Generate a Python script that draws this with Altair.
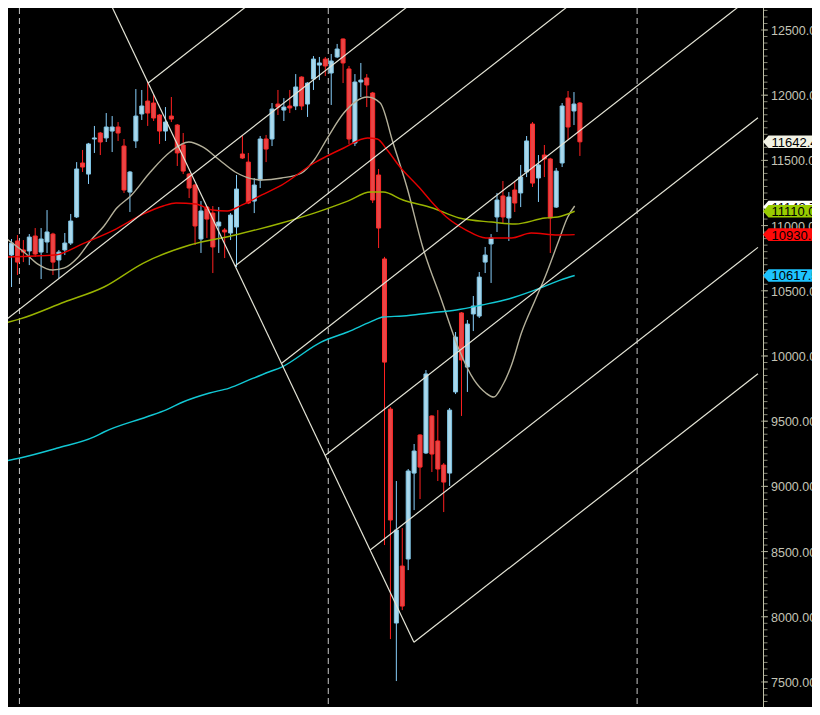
import altair as alt
import pandas as pd

# ---- weekly candles (index 0..97), prices ----
opens = [10851, 10774, 10882, 10813, 10805, 10920, 10797, 10874, 10935, 10736,
         10813, 10866, 11066, 11480, 11395, 11664, 11710, 11672, 11725, 11756,
         11610, 11257, 11649, 11856, 11955, 11940, 11848, 11725, 11840, 11771,
         11618, 11395, 11311, 10897, 11142, 11096, 10997, 10966, 10943, 10989,
         11549, 11487, 11188, 11349, 11664, 11664, 11932, 11886, 11917, 11917,
         12139, 11932, 12124, 12231, 12277, 12170, 12293, 12431, 12201, 11633,
         12101, 12132, 12017, 11388, 10744, 9593, 7952, 8389, 8443, 9102,
         9394, 9256, 9540, 9348, 9164, 9102, 9724, 10330, 9915, 10322,
         10306, 10720, 10859, 11066, 11227, 11058, 11273, 11250, 11411, 11779,
         11365, 11541, 11511, 11142, 11480, 11978, 11879, 11940]
highs = [10989, 10897, 10928, 10889, 10935, 10981, 10981, 11119, 10945, 10813,
         10943, 11089, 11487, 11580, 11634, 11764, 11718, 11863, 11840, 11794,
         11664, 11419, 12047, 12040, 12101, 12001, 11856, 11909, 11986, 11779,
         11710, 11403, 11318, 11188, 11150, 11150, 11142, 10981, 11096, 11388,
         11687, 11557, 11365, 11687, 11695, 11940, 12040, 11978, 12040, 12162,
         12145, 12100, 12300, 12293, 12293, 12316, 12393, 12435, 12224, 12162,
         12247, 12162, 12025, 11434, 10760, 9608, 9041, 8680, 9133, 9325,
         9400, 9892, 9545, 9585, 9179, 9601, 10184, 10337, 10276, 10460,
         10644, 10836, 10935, 11250, 11342, 11257, 11334, 11465, 11687, 11794,
         11541, 11618, 11520, 11442, 11940, 12032, 12024, 11948]
lows = [10721, 10529, 10621, 10720, 10697, 10759, 10590, 10790, 10621, 10598,
        10774, 10851, 11058, 11411, 11319, 11557, 11541, 11641, 11564, 11649,
        11250, 11104, 11595, 11810, 11764, 11802, 11626, 11649, 11794, 11457,
        11395, 11211, 10851, 10790, 10905, 10636, 10790, 10751, 10889, 10682,
        11511, 11165, 11096, 11288, 11487, 11610, 11848, 11802, 11863, 11886,
        11886, 11833, 12040, 12116, 12147, 11925, 12285, 12093, 11626, 11610,
        11986, 11909, 11173, 10828, 8550, 7829, 7507, 8051, 8358, 8818,
        8903, 9248, 9110, 9041, 8803, 9003, 9708, 9540, 9724, 10191,
        10291, 10636, 10560, 10951, 11020, 10882, 11104, 11142, 11372, 11296,
        11181, 11372, 10790, 11135, 11449, 11656, 11771, 11534]
closes = [10751, 10866, 10720, 10797, 10912, 10782, 10897, 10951, 10720, 10797,
          10866, 11035, 11434, 11449, 11626, 11672, 11641, 11756, 11756, 11710,
          11273, 11411, 11840, 11917, 11863, 11825, 11725, 11794, 11817, 11557,
          11418, 11288, 10997, 11112, 11050, 10836, 11027, 10951, 11081, 11280,
          11518, 11173, 11311, 11664, 11587, 11894, 11909, 11909, 11902, 12063,
          11917, 12093, 12277, 12247, 12224, 12262, 12354, 12247, 11664, 12101,
          12116, 12078, 11196, 10981, 9953, 8742, 8665, 8082, 9118, 9271,
          9148, 9862, 9248, 9133, 9033, 9585, 10145, 9969, 10245, 10383,
          10605, 10774, 10905, 11196, 11066, 11219, 11173, 11372, 11649, 11326,
          11465, 11511, 11058, 11418, 11917, 11756, 11932, 11642.4]

# ---- moving averages (candle index, price) ----
grey_k = [-0.05, 3.28, 5.45, 7.95, 9.95, 12.12, 14.45, 16.62, 18.78, 21.12, 24.45, 27.78,
          30.95, 33.28, 36.12, 38.78, 43.28, 46.62, 49.95, 52.12, 54.45, 57.12, 61.12,
          63.28, 65.45, 67.78, 70.45, 73.62, 76.62, 79.12, 81.12, 82.45, 83.78, 85.45,
          87.12, 89.45, 91.12, 93.28, 94.95, 96.12]
grey_p = [10905, 10790, 10705, 10659, 10675, 10751, 10889, 10997, 11135, 11227, 11411, 11564,
          11641, 11603, 11503, 11411, 11350, 11365, 11403, 11503, 11679, 11863, 11986,
          11940, 11633, 11296, 10836, 10429, 10046, 9816, 9716, 9685, 9762, 9931,
          10176, 10429, 10606, 10866, 11066, 11150]
red_k = [-0.05, 8.28, 13.28, 18.28, 23.28, 26.62, 28.78, 32.12, 34.95, 37.45, 39.95, 43.28,
         46.62, 52.12, 57.12, 61.12, 62.78, 64.45, 66.62, 69.95, 72.12, 74.45, 77.78,
         81.12, 85.45, 88.78, 93.28, 96.12]
red_p = [10759, 10774, 10866, 10966, 11089, 11150, 11173, 11165, 11119, 11112, 11158, 11235,
         11311, 11480, 11595, 11672, 11664, 11580, 11449, 11288, 11173, 11066, 10966,
         10905, 10905, 10943, 10928, 10931]
olive_k = [-0.05, 2.45, 9.95, 16.62, 23.28, 31.12, 38.78, 46.62, 52.12, 57.78, 61.62, 63.78,
           67.12, 72.12, 76.62, 82.12, 86.12, 91.12, 93.28, 96.12]
olive_p = [10253, 10284, 10414, 10529, 10713, 10851, 10928, 11020, 11096, 11188, 11257, 11257,
           11196, 11135, 11058, 11027, 11012, 11058, 11066, 11110]
cyan_k = [-0.05, 2.45, 8.78, 14.95, 16.62, 23.78, 27.12, 29.95, 34.45, 37.78, 41.12, 44.45,
          46.62, 53.28, 57.78, 61.62, 63.78, 67.12, 71.62, 76.12, 80.45, 84.95, 89.45,
          93.78, 96.12]
cyan_p = [9195, 9218, 9294, 9379, 9417, 9532, 9586, 9647, 9716, 9754, 9816, 9877,
          9915, 10107, 10184, 10261, 10299, 10307, 10330, 10353, 10391, 10437, 10506,
          10583, 10617]
ma_colors = {"grey": "#b4b09a", "olive": "#9ab400", "red": "#e60000", "cyan": "#12c8d4"}

# ---- year separators (candle index) ----
year_sep = [2.333, 54.5, 106.667]

# ---- drawn trend lines: (start index, start price, end index, end price) ----
trend_names = ["A", "P0", "P1", "P2", "P3", "P4", "P5", "P6"]
trend_k1 = [17.42, 24.08, -0.08, 38.75, 46.58, 53.97, 61.58, 68.97]
trend_p1 = [12730, 12093, 10272, 10690, 9942, 9237, 8512, 7804]
trend_k2 = [68.97, 42.05, 69.30, 96.33, 125.25, 127.08, 127.08, 127.08]
trend_p2 = [7804, 12730, 12730, 12730, 12730, 11827, 10833, 9863]

# ---- price axis ----
axis_values = [7500, 8000, 8500, 9000, 9500, 10000, 10500, 11000, 11500, 12000, 12500]
axis_labels = ["7500.00", "8000.00", "8500.00", "9000.00", "9500.00", "10000.00",
               "10500.00", "11000.00", "11500.00", "12000.00", "12500.00"]
minor_ticks = list(range(7350, 12700, 50))

# ---- price tags on the axis ----
tag_texts = ["11642.40", "11110.07", "10930.87", "10617.55"]
tag_prices = [11642.4, 11110.07, 10930.87, 10617.55]
tag_colors = ["#f2f2e4", "#99cc00", "#ff0a0a", "#1ec4ff"]
hidden_tag_text = ["11143.74"]
hidden_tag_price = [11142.5]

# ================= build =================
xs = alt.Scale(domain=[1.25, 127.0833], nice=False, zero=False)
ys = alt.Scale(domain=[7308, 12668.65], nice=False, zero=False)

cdf = pd.DataFrame({"k": list(range(len(opens))), "open": opens, "high": highs,
                    "low": lows, "close": closes})
up = [c >= o for o, c in zip(opens, closes)]
cdf["wick"] = ["#87cefa" if u else "#ff2020" for u in up]
cdf["bfill"] = ["#aad8ec" if u else "#e84646" for u in up]
cdf["bstroke"] = ["#80c6e6" if u else "#ff2a2a" for u in up]

X = alt.X("k:Q", scale=xs, axis=None)


def Y(field):
    return alt.Y(field, scale=ys, axis=None)


seps = alt.Chart(pd.DataFrame({"k": year_sep})).mark_rule(
    color="#c8c8c8", strokeDash=[6, 4], strokeWidth=1, clip=True
).encode(x=X)

wicks = alt.Chart(cdf).mark_rule(strokeWidth=1, clip=True).encode(
    x=X, y=Y("low:Q"), y2="high:Q",
    color=alt.Color("wick:N", scale=None),
)

bodies = alt.Chart(cdf).mark_bar(width=4, strokeWidth=1, clip=True).encode(
    x=X, y=Y("open:Q"), y2="close:Q",
    fill=alt.Fill("bfill:N", scale=None),
    stroke=alt.Stroke("bstroke:N", scale=None),
)

ma_rows = []
for name, ks, ps in [("grey", grey_k, grey_p), ("olive", olive_k, olive_p),
                     ("red", red_k, red_p), ("cyan", cyan_k, cyan_p)]:
    for i, (kk, pp) in enumerate(zip(ks, ps)):
        ma_rows.append({"ma": name, "col": ma_colors[name], "k": kk, "p": pp, "i": i})
madf = pd.DataFrame(ma_rows)

mas = alt.Chart(madf).mark_line(strokeWidth=1.4, interpolate="monotone", clip=True).encode(
    x=X, y=Y("p:Q"),
    color=alt.Color("col:N", scale=None),
    detail="ma:N",
    order="i:Q",
)

tl_rows = []
for n, a, b, c, d in zip(trend_names, trend_k1, trend_p1, trend_k2, trend_p2):
    tl_rows.append({"name": n, "k": a, "p": b, "i": 0})
    tl_rows.append({"name": n, "k": c, "p": d, "i": 1})
tldf = pd.DataFrame(tl_rows)

trends = alt.Chart(tldf).mark_line(color="#e4e4d6", strokeWidth=1.2, clip=True).encode(
    x=X, y=Y("p:Q"), detail="name:N", order="i:Q",
)

axis_line = alt.Chart(pd.DataFrame({"k": [0]})).mark_rule(
    color="#c0c0a8", strokeWidth=1
).encode(x=alt.value(755.5), y=alt.value(0), y2=alt.value(699))

minor = alt.Chart(pd.DataFrame({"p": minor_ticks})).mark_tick(
    color="#c0c0a8", size=4, thickness=1
).encode(x=alt.value(757.5), y=Y("p:Q"))

major = alt.Chart(pd.DataFrame({"p": axis_values})).mark_tick(
    color="#c0c0a8", size=7, thickness=1
).encode(x=alt.value(756.5), y=Y("p:Q"))

ax_labels = alt.Chart(pd.DataFrame({"p": axis_values, "txt": axis_labels})).mark_text(
    align="left", baseline="middle", font="Liberation Sans", fontSize=12.5,
    color="#c4c4b6", dy=1
).encode(x=alt.value(763), y=Y("p:Q"), text="txt:N")

TAG = "M0,0 L0.55,-0.63 L7,-0.63 L7,0.63 L0.55,0.63 Z"

hid_df = pd.DataFrame({"p": hidden_tag_price, "txt": hidden_tag_text})
hid_tag = alt.Chart(hid_df).mark_point(shape=TAG, size=400, filled=True, opacity=1,
                                       fill="#ffffff", strokeWidth=0).encode(
    x=alt.value(755), y=Y("p:Q"))
hid_txt = alt.Chart(hid_df).mark_text(align="left", baseline="middle", font="Liberation Sans",
                                      fontSize=13, color="#000000", dy=1).encode(
    x=alt.value(763.5), y=Y("p:Q"), text="txt:N")

tag_df = pd.DataFrame({"p": tag_prices, "txt": tag_texts, "col": tag_colors})
tags = alt.Chart(tag_df).mark_point(shape=TAG, size=400, filled=True, opacity=1,
                                    strokeWidth=0).encode(
    x=alt.value(755), y=Y("p:Q"),
    fill=alt.Fill("col:N", scale=None))
tag_txt = alt.Chart(tag_df).mark_text(align="left", baseline="middle", font="Liberation Sans",
                                      fontSize=13, color="#000000", dy=1).encode(
    x=alt.value(763.5), y=Y("p:Q"), text="txt:N")

chart = alt.layer(
    seps, wicks, bodies, mas, trends, axis_line, minor, major, ax_labels,
    hid_tag, hid_txt, tags, tag_txt
).properties(
    width=755, height=699,
    autosize=alt.AutoSizeParams(type="none"),
    padding={"left": 0, "top": 0, "right": 49, "bottom": 0},
    background="#000000",
).configure_view(stroke=None)

chart.save("out.html", embed_options={"renderer": "svg", "actions": False})
